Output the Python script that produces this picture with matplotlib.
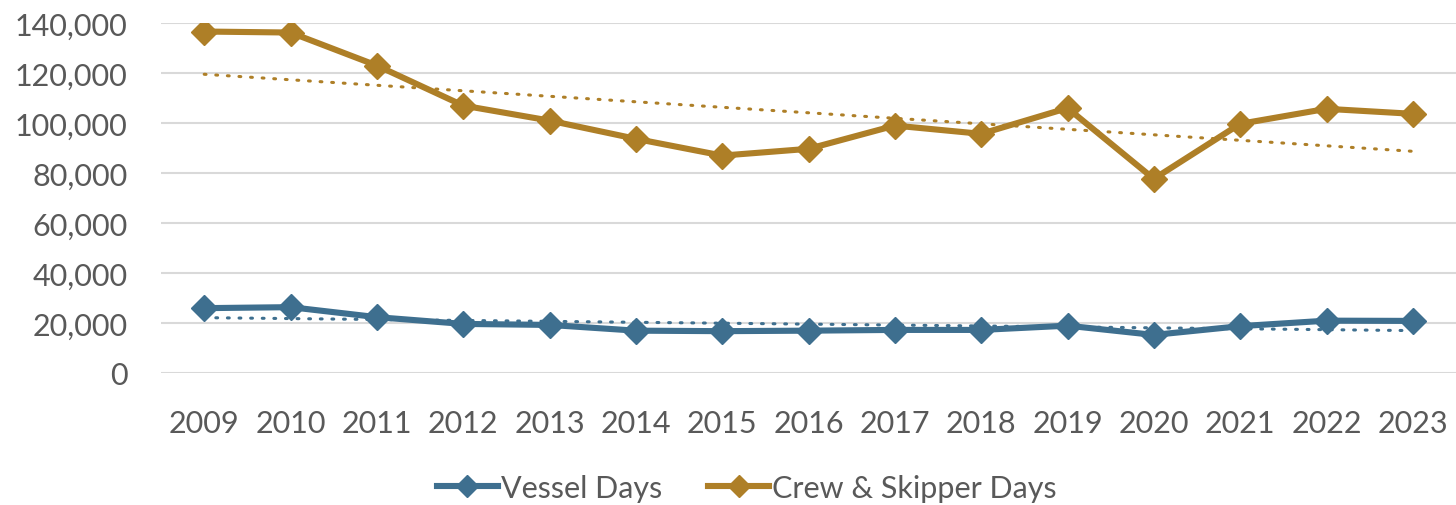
import numpy as np
import matplotlib.pyplot as plt
from matplotlib.ticker import FuncFormatter

years = ['2009', '2010', '2011', '2012', '2013', '2014', '2015', '2016',
         '2017', '2018', '2019', '2020', '2021', '2022', '2023']
vessel_days = [25900, 26300, 22300, 19600, 19200, 16900, 16700, 16900,
               17200, 17200, 18900, 15200, 18700, 20900, 20800]
crew_days = [136500, 136100, 122900, 106900, 100900, 93600, 86900, 89600,
             98900, 95600, 105900, 77600, 99600, 105600, 103600]

blue = '#3E6F8F'
gold = '#AE7F27'
grey = '#595959'

plt.rcParams['font.family'] = ['Lato', 'DejaVu Sans']

fig = plt.figure(figsize=(14.56, 5.06), dpi=100)
ax = fig.add_axes([0.1106, 0.261, 0.8894, 0.692])

x = np.arange(len(years))
for vals, col, name in [(vessel_days, blue, 'Vessel Days'), (crew_days, gold, 'Crew & Skipper Days')]:
    ax.plot(x, vals, color=col, lw=4.4, marker='D', ms=13, label=name, zorder=3)
    # linear trendline
    k, b = np.polyfit(x, vals, 1)
    ax.plot(x, k * x + b, color=col, lw=2.2, linestyle=(0, (0.6, 3.2)),
            dash_capstyle='round', zorder=2)

ax.set_xlim(-0.5, len(years) - 0.5)
ax.set_ylim(0, 140000)
ax.set_yticks(range(0, 140001, 20000))
ax.yaxis.set_major_formatter(FuncFormatter(lambda v, p: f'{int(v):,}'))
ax.set_xticks(x)
ax.set_xticklabels(years)
ax.grid(axis='y', color='#d9d9d9', lw=1.5)
ax.set_axisbelow(True)
for s in ax.spines.values():
    s.set_visible(False)
ax.tick_params(length=0, labelsize=22, colors=grey)
ax.tick_params(axis='y', pad=24)
ax.tick_params(axis='x', pad=26)

leg = fig.legend(*ax.get_legend_handles_labels(), loc='center', bbox_to_anchor=(0.513, 0.034),
                 ncol=2, frameon=False, fontsize=22, handlelength=2.0,
                 columnspacing=1.5, handletextpad=0.1, borderaxespad=0, borderpad=0,
                 markerscale=0.85)
for t in leg.get_texts():
    t.set_color(grey)

fig.savefig('out.png', dpi=100)
